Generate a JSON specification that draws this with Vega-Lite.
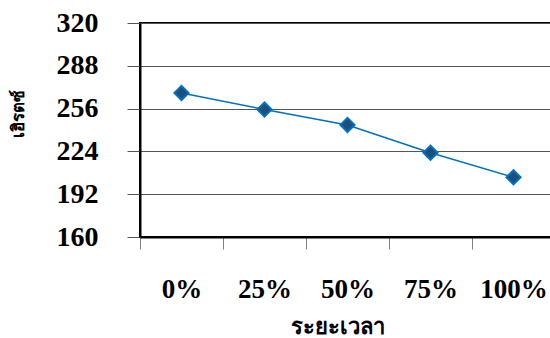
{
  "$schema": "https://vega.github.io/schema/vega-lite/v6.json",
  "width": 415,
  "height": 214,
  "autosize": {"type": "none"},
  "padding": {"left": 140, "top": 23, "right": 0, "bottom": 101},
  "background": "white",
  "config": {
    "view": {"stroke": "black", "strokeWidth": 2},
    "font": "Liberation Serif"
  },
  "data": {
    "values": [
      {"time": "0%", "hz": 267.7},
      {"time": "25%", "hz": 255.3},
      {"time": "50%", "hz": 243.8},
      {"time": "75%", "hz": 223.0},
      {"time": "100%", "hz": 204.6}
    ]
  },
  "encoding": {
    "x": {
      "field": "time",
      "type": "ordinal",
      "sort": null,
      "scale": {"paddingInner": 0, "paddingOuter": 0},
      "axis": {
        "title": "ระยะเวลา",
        "labelAngle": 0,
        "labelFont": "Liberation Serif",
        "labelFontSize": 27,
        "labelFontWeight": "bold",
        "labelColor": "black",
        "labelPadding": 27,
        "tickBand": "extent",
        "tickSize": 12,
        "tickColor": "#808080",
        "tickWidth": 1,
        "domainColor": "black",
        "domainWidth": 2,
        "grid": false,
        "titleFont": "Liberation Serif",
        "titleFontSize": 22,
        "titleFontWeight": "bold",
        "titleColor": "black",
        "titleX": 197,
        "titleY": 89,
        "titleBaseline": "middle"
      }
    },
    "y": {
      "field": "hz",
      "type": "quantitative",
      "scale": {"domain": [160, 320], "nice": false, "zero": false},
      "axis": {
        "title": "เฮิรตซ์",
        "values": [160, 192, 224, 256, 288, 320],
        "labelFont": "Liberation Serif",
        "labelFontSize": 28,
        "labelFontWeight": "bold",
        "labelColor": "black",
        "labelPadding": 29,
        "tickSize": 13,
        "tickColor": "#555555",
        "domainColor": "black",
        "domainWidth": 2,
        "grid": true,
        "gridColor": "#555555",
        "gridWidth": 1,
        "titleFont": "Liberation Serif",
        "titleFontSize": 17,
        "titleFontWeight": "bold",
        "titleColor": "black",
        "titleAngle": -90,
        "titleX": -122,
        "titleY": 90,
        "titleAlign": "center",
        "titleBaseline": "middle"
      }
    }
  },
  "layer": [
    {"mark": {"type": "line", "color": "#0070C0", "strokeWidth": 1.5}},
    {"mark": {"type": "point", "shape": "diamond", "filled": true, "fill": "#1F4E79", "stroke": "#0070C0", "strokeWidth": 2, "size": 200, "opacity": 1}}
  ]
}
